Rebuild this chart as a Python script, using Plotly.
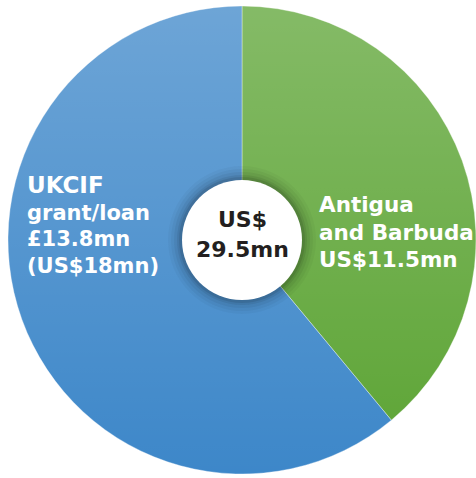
import base64
import plotly.graph_objects as go

# ---- data ----
labels = ["Antigua and Barbuda", "UKCIF grant/loan"]
values_usd_mn = [11.5, 18.0]
total_label = ["US$", "29.5mn"]
left_label = ["UKCIF", "grant/loan", "£13.8mn", "(US$18mn)"]
right_label = ["Antigua", "and Barbuda", "US$11.5mn"]

W, H = 476, 478
colors = ["#5ca434", "#3d87c9"]

cx, cy, R = 242, 240, 234  # pixel geometry of the pie


def px(x):
    return x / W


def py(y):
    return 1 - y / H


fig = go.Figure(go.Pie(
    labels=labels, values=values_usd_mn, sort=False, direction="clockwise",
    rotation=0, marker=dict(colors=colors, line=dict(width=1, color="rgba(255,255,255,0.35)")),
    textinfo="none", hoverinfo="label+value", showlegend=False,
    domain=dict(x=[px(cx - R), px(cx + R)], y=[py(cy + R), py(cy - R)]),
))

# vertical light gradient overlay (white -> transparent), invisible on white bg
svg = (
    '<svg xmlns="http://www.w3.org/2000/svg" width="100" height="100" preserveAspectRatio="none">'
    '<defs><linearGradient id="g" x1="0" y1="0" x2="0" y2="1">'
    '<stop offset="0" stop-color="#ffffff" stop-opacity="0.25"/>'
    '<stop offset="1" stop-color="#ffffff" stop-opacity="0"/>'
    '</linearGradient></defs><rect width="100" height="100" fill="url(#g)"/></svg>'
)
src = "data:image/svg+xml;base64," + base64.b64encode(svg.encode()).decode()
fig.add_layout_image(dict(source=src, xref="paper", yref="paper",
                          x=0, y=py(cy - R), sizex=1, sizey=(2 * R) / H,
                          xanchor="left", yanchor="top", sizing="stretch",
                          layer="above", opacity=1))

# soft shadow + white centre disc
hole_r = 60
shapes = []
for extra, a in [(14, 0.03), (11, 0.04), (8, 0.05), (5, 0.07), (3, 0.09)]:
    r = hole_r + extra
    shapes.append(dict(type="circle", xref="paper", yref="paper",
                       x0=px(cx - r), x1=px(cx + r), y0=py(cy + r), y1=py(cy - r),
                       fillcolor=f"rgba(0,0,0,{a})", line=dict(width=0), layer="above"))
shapes.append(dict(type="circle", xref="paper", yref="paper",
                   x0=px(cx - hole_r), x1=px(cx + hole_r),
                   y0=py(cy + hole_r), y1=py(cy - hole_r),
                   fillcolor="white", line=dict(width=0), layer="above"))
fig.update_layout(shapes=shapes)

FONT = "DejaVu Sans"


def add_block(lines, sizes, x, ymid, base_size, color, anchor="left", align="left"):
    txt = "<br>".join(f'<span style="font-size:{s}px">{t}</span>' for t, s in zip(lines, sizes))
    fig.add_annotation(text=txt, x=px(x), y=py(ymid), xref="paper", yref="paper",
                       xanchor=anchor, yanchor="middle", align=align, showarrow=False,
                       font=dict(family=FONT, size=base_size, color=color, weight="bold"))


add_block(left_label, [23, 21, 21, 21], 25, 225, 20.5, "white")
add_block(right_label, [21.5, 21.5, 21.5], 317, 232, 21.2, "white")
add_block(total_label, [22, 22], 243, 234, 23, "#231f20", anchor="center", align="center")

fig.update_layout(width=W, height=H, margin=dict(l=0, r=0, t=0, b=0),
                  paper_bgcolor="white", plot_bgcolor="white")
fig.write_html("out.html", config={"displayModeBar": False},
               post_script="document.body.style.margin='0';")
